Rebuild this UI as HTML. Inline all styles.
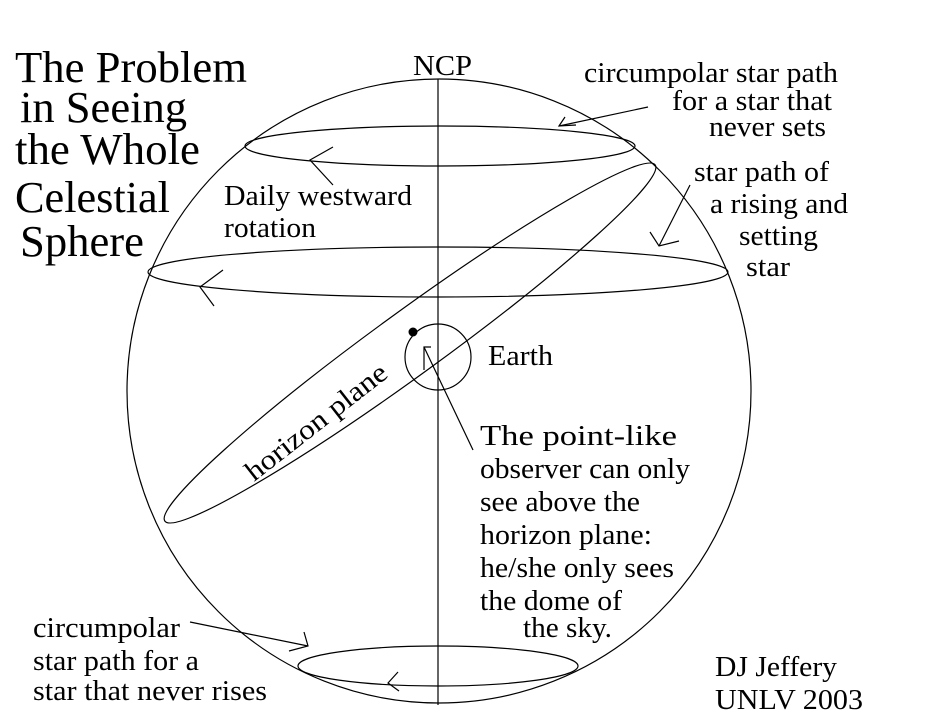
<!DOCTYPE html>
<html><head><meta charset="utf-8"><style>
html,body{margin:0;padding:0;background:#fff;}
svg{display:block;}
text{font-family:"Liberation Serif","Times New Roman",serif;fill:#000;}
.t{font-size:44px;}
.l{font-size:28px;}
</style></head><body>
<svg width="927" height="725" viewBox="0 0 927 725" xmlns="http://www.w3.org/2000/svg">
<g fill="none" stroke="#000" stroke-width="1.2">
<circle cx="439" cy="391" r="312"/>
<line x1="438" y1="79" x2="438" y2="705"/>
<ellipse cx="440" cy="146" rx="195" ry="20"/>
<ellipse cx="438" cy="272" rx="290" ry="25"/>
<ellipse cx="438" cy="666" rx="140" ry="20"/>
<ellipse cx="438" cy="357" rx="33" ry="33"/>
<ellipse cx="410" cy="343" rx="303" ry="32" transform="rotate(-36 410 343)"/>
<polyline points="333,147 310,160 333,185"/>
<polyline points="223,270 200,287 214,306"/>
<polyline points="398,672 388,683 399,691"/>
<line x1="648" y1="107" x2="559" y2="126"/>
<polyline points="565,117 559,126 576,125"/>
<line x1="690" y1="185" x2="659" y2="246"/>
<polyline points="650,232 659,246 679,241"/>
<line x1="473" y1="450" x2="424" y2="347"/>
<polyline points="424,370 424,347 431,347"/>
<line x1="190" y1="622" x2="308" y2="646"/>
<polyline points="304,632 308,646 289,651"/>
</g>
<circle cx="413" cy="332" r="4.5" fill="#000"/>
<text class="t" x="15" y="82" textLength="232" lengthAdjust="spacingAndGlyphs">The Problem</text>
<text class="t" x="20" y="122" textLength="167" lengthAdjust="spacingAndGlyphs">in Seeing</text>
<text class="t" x="15" y="164" textLength="185" lengthAdjust="spacingAndGlyphs">the Whole</text>
<text class="t" x="15" y="212" textLength="155" lengthAdjust="spacingAndGlyphs">Celestial</text>
<text class="t" x="20" y="256" textLength="124" lengthAdjust="spacingAndGlyphs">Sphere</text>
<text class="l" x="413" y="75" textLength="59" lengthAdjust="spacingAndGlyphs">NCP</text>
<text class="l" x="584" y="82" textLength="254" lengthAdjust="spacingAndGlyphs">circumpolar star path</text>
<text class="l" x="672" y="110" textLength="160" lengthAdjust="spacingAndGlyphs">for a star that</text>
<text class="l" x="709" y="136" textLength="117" lengthAdjust="spacingAndGlyphs">never sets</text>
<text class="l" x="694" y="181" textLength="135" lengthAdjust="spacingAndGlyphs">star path of</text>
<text class="l" x="710" y="213" textLength="138" lengthAdjust="spacingAndGlyphs">a rising and</text>
<text class="l" x="739" y="245" textLength="79" lengthAdjust="spacingAndGlyphs">setting</text>
<text class="l" x="746" y="276" textLength="44" lengthAdjust="spacingAndGlyphs">star</text>
<text class="l" x="224" y="205" textLength="188" lengthAdjust="spacingAndGlyphs">Daily westward</text>
<text class="l" x="224" y="237" textLength="92" lengthAdjust="spacingAndGlyphs">rotation</text>
<text class="l" x="488" y="365" textLength="65" lengthAdjust="spacingAndGlyphs">Earth</text>
<text class="l" transform="translate(254,482) rotate(-38)" textLength="172" lengthAdjust="spacingAndGlyphs">horizon plane</text>
<text class="l" x="480" y="445" textLength="197" lengthAdjust="spacingAndGlyphs">The point-like</text>
<text class="l" x="480" y="478" textLength="210" lengthAdjust="spacingAndGlyphs">observer can only</text>
<text class="l" x="480" y="511" textLength="160" lengthAdjust="spacingAndGlyphs">see above the</text>
<text class="l" x="480" y="544" textLength="172" lengthAdjust="spacingAndGlyphs">horizon plane:</text>
<text class="l" x="480" y="577" textLength="194" lengthAdjust="spacingAndGlyphs">he/she only sees</text>
<text class="l" x="480" y="610" textLength="142" lengthAdjust="spacingAndGlyphs">the dome of</text>
<text class="l" x="523" y="637" textLength="89" lengthAdjust="spacingAndGlyphs">the sky.</text>
<text class="l" x="33" y="637" textLength="147" lengthAdjust="spacingAndGlyphs">circumpolar</text>
<text class="l" x="33" y="670" textLength="166" lengthAdjust="spacingAndGlyphs">star path for a</text>
<text class="l" x="33" y="700" textLength="234" lengthAdjust="spacingAndGlyphs">star that never rises</text>
<text class="l" x="715" y="676" textLength="122" lengthAdjust="spacingAndGlyphs">DJ Jeffery</text>
<text class="l" x="715" y="709" textLength="148" lengthAdjust="spacingAndGlyphs">UNLV 2003</text>
</svg>
</body></html>
